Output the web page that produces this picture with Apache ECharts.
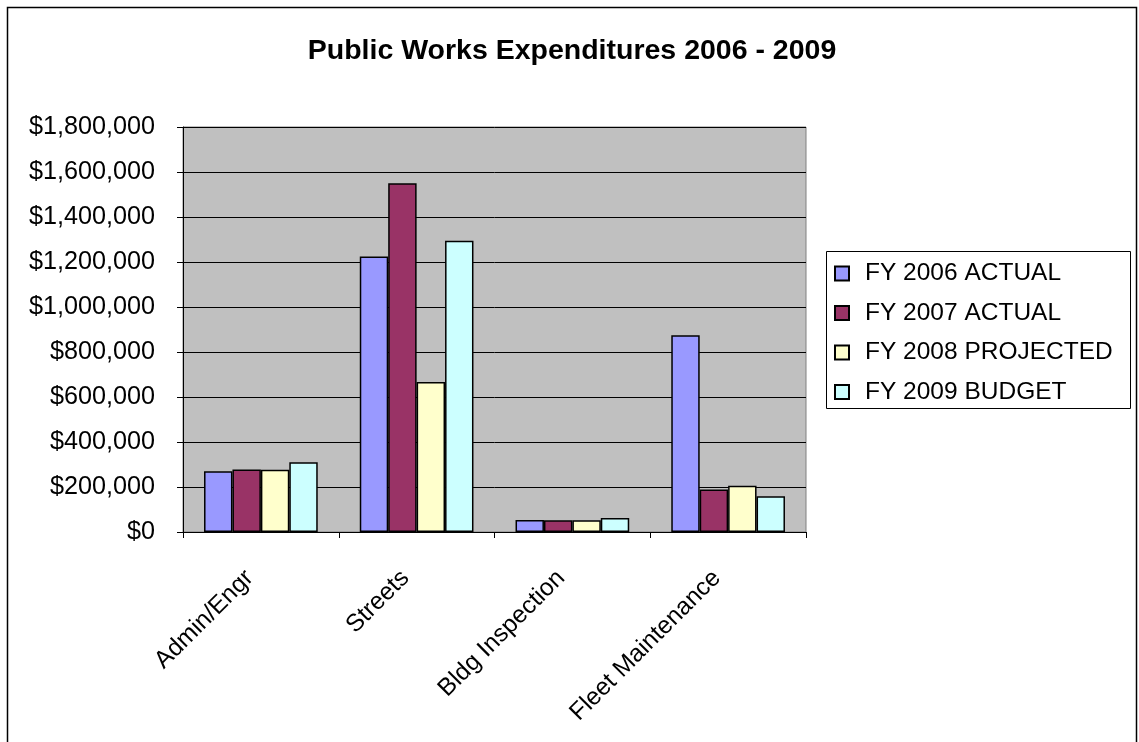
<!DOCTYPE html>
<html>
<head>
<meta charset="utf-8">
<script src="https://cdn.jsdelivr.net/npm/echarts@6/dist/echarts.min.js"></script>
<style>
  html, body { margin: 0; padding: 0; background: #fff; }
  #chart { width: 1139px; height: 742px; }
</style>
</head>
<body>
<div id="chart"></div>
<script>
// Department categories and yearly spending per series
const categories = ['Admin/Engr', 'Streets', 'Bldg Inspection', 'Fleet Maintenance'];
const seriesNames = ['FY 2006 ACTUAL', 'FY 2007 ACTUAL', 'FY 2008 PROJECTED', 'FY 2009 BUDGET'];
const fy2006Actual = [270000, 1224000, 53000, 875000];
const fy2007Actual = [278000, 1550000, 52000, 189000];
const fy2008Projected = [277000, 667000, 52000, 206000];
const fy2009Budget = [310000, 1295000, 62000, 159000];
const seriesColors = ['#9999FF', '#993366', '#FFFFCC', '#CCFFFF'];

const seriesValues = [fy2006Actual, fy2007Actual, fy2008Projected, fy2009Budget];
const FONT = '"Liberation Sans", Arial, sans-serif';

const chart = echarts.init(document.getElementById('chart'), null, { renderer: 'canvas' });

function money(v) {
  return '$' + Math.round(v).toString().replace(/\B(?=(\d{3})+(?!\d))/g, ',');
}

chart.setOption({
  animation: false,
  backgroundColor: '#ffffff',
  textStyle: { fontFamily: FONT, color: '#000' },
  title: {
    text: 'Public Works Expenditures 2006 - 2009',
    left: 567,
    textAlign: 'center',
    top: 32,
    textStyle: { fontFamily: FONT, fontWeight: 'bold', fontSize: 28.5, color: '#000' }
  },
  graphic: [
    {
      type: 'rect',
      shape: { x: 7.5, y: 7.5, width: 1129, height: 760 },
      style: { fill: 'none', stroke: '#000', lineWidth: 1.5 },
      z: 0
    },
    {
      type: 'rect',
      shape: { x: 826.5, y: 251.5, width: 304, height: 157 },
      style: { fill: '#fff', stroke: '#000', lineWidth: 1 },
      z: 1
    }
  ],
  legend: {
    orient: 'vertical',
    left: 834,
    top: 260,
    padding: 0,
    itemWidth: 14,
    itemHeight: 14,
    itemGap: 12.5,
    icon: 'rect',
    data: seriesNames,
    textStyle: { fontFamily: FONT, fontSize: 24.5, color: '#000', lineHeight: 27, padding: [0, 0, 0, 11] },
    z: 5
  },
  grid: {
    left: 183,
    top: 127,
    right: 333,
    bottom: 210,
    show: true,
    backgroundColor: '#C0C0C0',
    borderColor: '#808080',
    borderWidth: 1
  },
  xAxis: {
    type: 'category',
    data: categories,
    axisLine: { lineStyle: { color: '#000', width: 1 } },
    axisTick: { show: true, length: 6, lineStyle: { color: '#000' } },
    axisLabel: {
      rotate: 45, margin: 31, fontFamily: FONT, fontSize: 24.5, color: '#000',
      padding: [0, 16, 0, 0]
    },
    splitLine: { show: false }
  },
  yAxis: {
    type: 'value',
    min: 0,
    max: 1800000,
    interval: 200000,
    axisLine: { show: true, lineStyle: { color: '#000', width: 1 } },
    axisTick: { show: true, length: 6, lineStyle: { color: '#000' } },
    axisLabel: { margin: 28, fontFamily: FONT, fontSize: 25.2, color: '#000', formatter: money },
    splitLine: { show: true, lineStyle: { color: '#000', width: 1 } }
  },
  series: seriesNames.map((name, i) => ({
    name: name,
    type: 'bar',
    data: seriesValues[i],
    barGap: '0%',
    barCategoryGap: '27%',
    itemStyle: { color: seriesColors[i], borderColor: '#000', borderWidth: 1.5 },
    z: 3
  }))
});
</script>
</body>
</html>
